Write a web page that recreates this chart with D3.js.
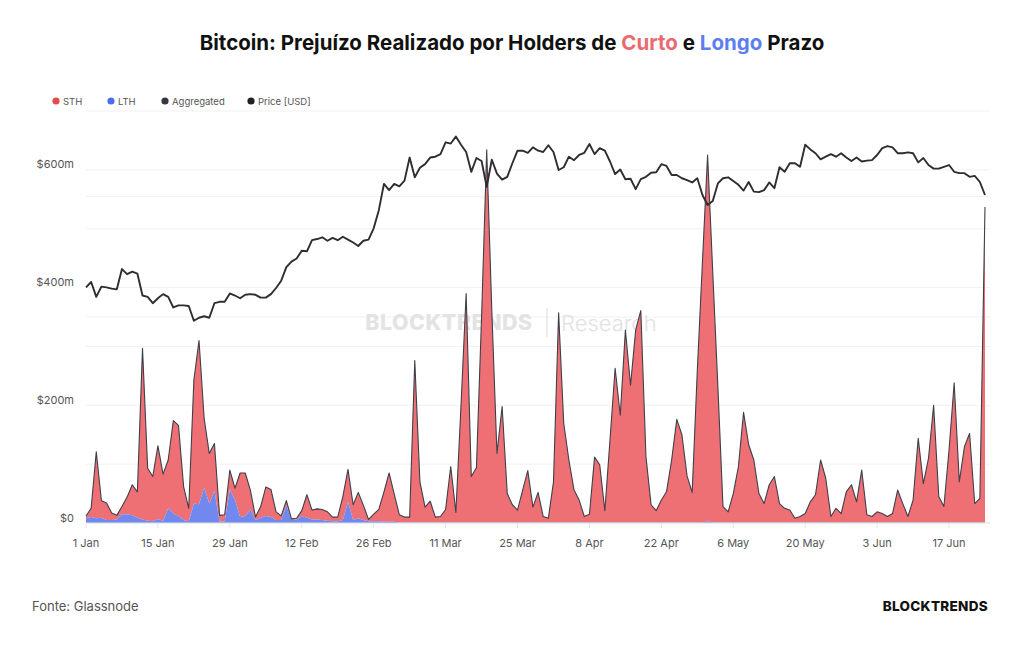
<!DOCTYPE html>
<html><head><meta charset="utf-8">
<script src="https://cdn.jsdelivr.net/npm/d3@7"></script>
<style>
body{margin:0;background:#fff;}
svg{display:block;font-family:Inter,"Noto Sans",sans-serif;}
</style>
</head><body>
<svg id="c" width="1024" height="645"></svg>
<script>
// ---------- DATA ----------
const startDate = "2024-01-01";
const seriesNames = ["STH", "LTH", "Aggregated", "Price [USD]"];
// STH realized loss, USD millions (daily)
const sthValues = [
  4,15,113,29,29,12,7,13,29,52,
  44,291,89,76,124,79,82,158,154,57,
  22,210,278,118,85,80,11,11,33,20,
  75,73,33,5,19,49,47,14,7,8,
  2,2,9,39,16,18,18,15,7,7,
  40,55,26,44,25,3,12,20,51,83,
  47,13,9,9,275,69,26,36,9,10,
  22,95,17,199,389,78,93,349,633,359,
  117,197,49,30,21,55,88,26,51,10,
  7,69,356,168,106,55,38,10,14,111,
  98,20,140,262,182,327,233,327,360,112,
  30,20,38,52,106,175,149,79,51,259,
  443,622,426,231,27,18,49,95,187,132,
  106,49,32,64,78,32,24,21,7,10,
  15,35,47,106,75,10,24,15,52,64,
  35,89,13,10,18,15,10,15,55,32,
  10,38,143,66,109,199,44,27,123,237,
  69,129,151,32,41,536
];
// LTH realized loss, USD millions (daily)
const lthValues = [
  8,10,8,9,5,5,6,15,15,13,
  9,6,4,3,7,4,25,16,12,5,
  3,33,32,60,33,55,2,3,57,39,
  10,12,23,5,9,12,10,5,5,30,
  5,6,12,9,6,6,5,4,3,3,
  5,36,5,8,5,3,3,3,2,2,
  2,1,1,1,1,1,1,1,1,1,
  1,1,1,1,1,1,1,1,1,1,
  1,1,1,1,1,1,1,1,1,1,
  1,1,1,1,1,1,1,1,1,1,
  1,1,1,1,1,1,1,1,1,1,
  1,1,1,1,1,1,1,1,1,1,
  1,3,1,1,1,1,1,1,1,1,
  1,1,1,1,1,1,1,1,1,1,
  1,1,1,1,1,1,1,1,1,1,
  1,1,1,1,1,1,1,1,1,1,
  1,1,1,1,1,1,1,1,1,1,
  1,1,1,1,1,1
];
// BTC price, USD thousands (daily)
const priceValues = [
  44.2,45.0,42.8,44.3,44.2,44.0,43.9,47.0,46.2,46.6,
  46.3,43.0,42.8,41.9,42.6,43.2,42.8,41.3,41.6,41.6,
  41.5,39.5,39.9,40.1,39.9,41.9,42.1,42.1,43.3,43.0,
  42.6,43.1,43.2,43.1,42.7,42.7,43.2,44.1,45.2,47.3,
  48.2,48.7,50.0,49.9,51.8,52.0,52.3,51.7,52.2,51.8,
  52.4,51.9,51.4,50.8,51.7,51.9,53.9,57.3,62.6,61.3,
  62.6,62.1,63.3,68.4,64.0,66.1,66.9,68.4,68.6,69.2,
  72.0,71.7,73.4,71.4,69.7,65.2,68.3,67.6,62.0,67.9,
  64.8,63.5,64.1,67.1,70.0,70.0,69.5,70.8,70.0,69.7,
  71.3,69.7,65.6,66.2,68.6,67.8,69.0,69.5,71.6,69.2,
  70.6,70.0,67.5,64.7,65.7,63.6,63.7,61.5,63.6,64.1,
  65.0,65.1,66.9,66.5,64.5,64.5,63.8,63.4,62.9,63.8,
  60.3,58.3,59.1,62.7,63.8,64.0,63.2,62.4,61.2,63.0,
  61.0,60.9,61.3,62.9,61.7,66.2,65.2,67.1,67.1,66.3,
  71.4,70.3,69.4,68.0,68.6,69.2,68.6,69.4,68.4,67.6,
  68.4,67.5,67.7,67.8,69.0,70.6,71.1,70.8,69.4,69.4,
  69.6,69.4,67.3,68.3,66.7,65.9,65.9,66.3,66.7,65.2,
  64.9,64.9,64.1,64.3,63.0,60.3
];
const xTickDates = ["2024-01-01","2024-01-15","2024-01-29","2024-02-12","2024-02-26","2024-03-11","2024-03-25","2024-04-08","2024-04-22","2024-05-06","2024-05-20","2024-06-03","2024-06-17"];
const yTickValues = [0, 200, 400, 600];
const yTickLabels = ["$0", "$200m", "$400m", "$600m"];
const yGridValues = [0, 100, 200, 300, 400, 500, 600, 700];
const priceGridValues = [40, 60];

// ---------- CHART ----------
const svg = d3.select("#c");
const parse = d3.utcParse("%Y-%m-%d");
const start = parse(startDate);
const data = sthValues.map((s, i) => ({
  date: d3.utcDay.offset(start, i),
  sth: s, lth: lthValues[i], price: priceValues[i]
}));

const L = 86, R = 985, T = 111, B = 523;
const x = d3.scaleUtc().domain([data[0].date, data[data.length - 1].date]).range([L, R]);
const y = d3.scaleLinear().domain([0, 700]).range([B, T]);
const yP = d3.scaleLog().domain([20, 80]).range([B, T]);

// title
const title = svg.append("text").attr("x", 512).attr("y", 50).attr("text-anchor", "middle")
  .attr("font-size", 20.5).attr("font-weight", 700).attr("fill", "#111");
title.append("tspan").text("Bitcoin: Prejuízo Realizado por Holders de ");
title.append("tspan").attr("fill", "#ea6a6e").text("Curto");
title.append("tspan").text(" e ");
title.append("tspan").attr("fill", "#5b7ff0").text("Longo");
title.append("tspan").text(" Prazo");

// legend
const legendColors = ["#e84a4a", "#4d6df0", "#343844", "#222222"];
const legendX = [56, 111, 165, 251];
seriesNames.forEach((nm, i) => {
  svg.append("circle").attr("cx", legendX[i]).attr("cy", 101).attr("r", 3.6).attr("fill", legendColors[i]);
  svg.append("text").attr("x", legendX[i] + 7).attr("y", 104.5).attr("font-size", 9.5)
    .attr("fill", "#555").text(nm);
});

// grid
const grid = svg.append("g");
yGridValues.forEach(v => {
  grid.append("line").attr("x1", L).attr("x2", 990).attr("y1", y(v)).attr("y2", y(v))
    .attr("stroke", "#f1f1f1").attr("stroke-width", 1);
});
priceGridValues.forEach(v => {
  grid.append("line").attr("x1", L).attr("x2", 990).attr("y1", yP(v)).attr("y2", yP(v))
    .attr("stroke", "#f1f1f1").attr("stroke-width", 1);
});

// watermark
const wm = svg.append("g");
wm.append("text").attr("x", 449).attr("y", 330).attr("text-anchor", "middle")
  .attr("font-size", 21.3).attr("font-weight", 800).attr("fill", "#e3e3e3").attr("letter-spacing", 0.6)
  .text("BLOCKTRENDS");
wm.append("line").attr("x1", 547).attr("x2", 547).attr("y1", 308).attr("y2", 337)
  .attr("stroke", "#e1e1e1").attr("stroke-width", 1.2);
wm.append("text").attr("x", 561).attr("y", 331).attr("font-size", 22).attr("font-weight", 300)
  .attr("fill", "#e2e2e2").text("Research");

// areas
const areaLTH = d3.area().x(d => x(d.date)).y0(y(0)).y1(d => y(d.lth));
const areaSTH = d3.area().x(d => x(d.date)).y0(d => y(d.lth)).y1(d => y(d.lth + d.sth));
svg.append("path").datum(data).attr("d", areaSTH).attr("fill", "#ee7075");
svg.append("path").datum(data).attr("d", areaLTH).attr("fill", "#7189ee");
const aggLine = d3.line().x(d => x(d.date)).y(d => y(d.lth + d.sth));
svg.append("path").datum(data).attr("d", aggLine).attr("fill", "none")
  .attr("stroke", "#3d404a").attr("stroke-width", 1.1).attr("stroke-linejoin", "round");

// price
const priceLine = d3.line().x(d => x(d.date)).y(d => yP(d.price));
svg.append("path").datum(data).attr("d", priceLine).attr("fill", "none")
  .attr("stroke", "#2e2e30").attr("stroke-width", 1.9).attr("stroke-linejoin", "round");

// x axis
svg.append("line").attr("x1", L).attr("x2", 990).attr("y1", B).attr("y2", B)
  .attr("stroke", "#e2e2e2");
const fmt = d3.utcFormat("%-d %b");
xTickDates.forEach(s => {
  const d = parse(s);
  svg.append("line").attr("x1", x(d)).attr("x2", x(d)).attr("y1", B).attr("y2", B + 5).attr("stroke", "#e2e2e2");
  svg.append("text").attr("x", x(d)).attr("y", 547).attr("text-anchor", "middle")
    .attr("font-size", 11).attr("fill", "#555").text(fmt(d));
});

// y axis labels
yTickValues.forEach((v, i) => {
  svg.append("text").attr("x", 74).attr("y", y(v) - 1.5).attr("text-anchor", "end")
    .attr("font-size", 11).attr("fill", "#555").text(yTickLabels[i]);
});

// footer
svg.append("text").attr("x", 32).attr("y", 611).attr("font-size", 13).attr("fill", "#555")
  .text("Fonte: Glassnode");
svg.append("text").attr("x", 988).attr("y", 611).attr("text-anchor", "end").attr("font-size", 13.5)
  .attr("font-weight", 800).attr("fill", "#111").attr("letter-spacing", 0.3).text("BLOCKTRENDS");
</script>
</body></html>
